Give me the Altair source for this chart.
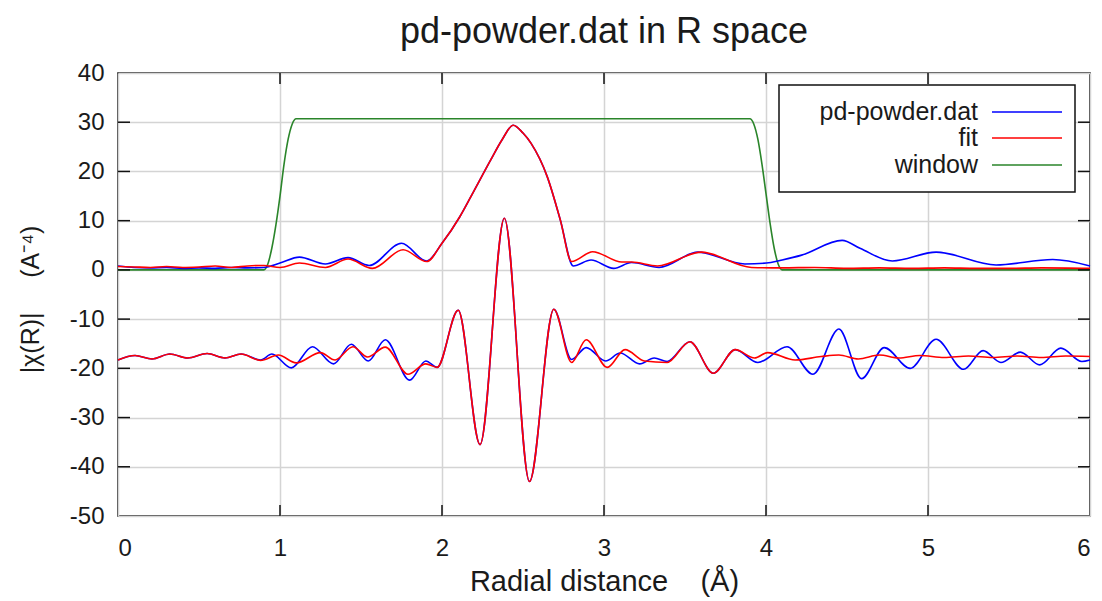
import altair as alt
import pandas as pd

# ---- data ----
# |chi(R)| of the data (blue)
mag_data_r = [0.0, 0.1, 0.2, 0.3, 0.4, 0.5, 0.6, 0.7, 0.8, 0.9, 1.0, 1.12, 1.28, 1.42, 1.55, 1.75,
              1.905, 2.0, 2.11, 2.19, 2.3, 2.37, 2.44, 2.5, 2.55, 2.65, 2.73, 2.81, 2.92, 3.06, 3.17,
              3.34, 3.58, 3.87, 4.03, 4.1, 4.22, 4.47, 4.58, 4.78, 5.05, 5.42, 5.77, 6.0]
mag_data_v = [0.8, 0.5, 0.4, 0.5, 0.3, 0.4, 0.3, 0.5, 0.4, 0.5, 1.4, 2.6, 1.2, 2.5, 0.9, 5.4,
              1.8, 5.4, 10.8, 15.6, 22.3, 26.4, 29.4, 27.8, 25.7, 18.9, 10.2, 0.8, 2.0, 0.3, 1.5,
              0.5, 3.6, 1.2, 1.5, 2.0, 3.0, 6.0, 4.4, 1.8, 3.6, 1.0, 2.1, 0.8]
# |chi(R)| of the fit (red)
mag_fit_r = [0.0, 0.1, 0.2, 0.3, 0.4, 0.5, 0.6, 0.7, 0.8, 0.9, 1.0, 1.12, 1.28, 1.42, 1.57, 1.76,
             1.905, 2.0, 2.11, 2.19, 2.3, 2.37, 2.44, 2.5, 2.55, 2.65, 2.73, 2.80, 2.93, 3.11, 3.17,
             3.33, 3.60, 3.91, 4.1, 4.3, 4.5, 4.7, 4.9, 5.1, 5.3, 5.5, 5.7, 6.0]
mag_fit_v = [0.7, 0.6, 0.5, 0.7, 0.5, 0.6, 0.8, 0.5, 0.8, 0.9, 0.5, 1.4, 0.5, 2.2, 0.3, 4.1,
             1.7, 5.4, 10.8, 15.6, 22.3, 26.4, 29.4, 27.8, 25.7, 18.9, 10.2, 1.7, 3.7, 1.6, 1.6,
             0.8, 3.6, 0.5, 0.4, 0.5, 0.3, 0.4, 0.3, 0.4, 0.3, 0.3, 0.4, 0.3]
# Re[chi(R)] of the data, shifted (blue)
re_data_r = [0.0, 0.105, 0.21, 0.32, 0.43, 0.55, 0.66, 0.76, 0.88, 0.95, 1.07, 1.2, 1.33, 1.44,
             1.545, 1.65, 1.80, 1.9, 1.97, 2.10, 2.235, 2.385, 2.54, 2.69, 2.80, 2.89, 3.01, 3.10,
             3.22, 3.31, 3.39, 3.53, 3.675, 3.81, 3.95, 4.13, 4.29, 4.45, 4.59, 4.73, 4.89, 5.05,
             5.22, 5.34, 5.45, 5.57, 5.69, 5.82, 5.95, 6.0]
re_data_v = [-18.3, -17.4, -18.1, -17.1, -17.9, -17.0, -17.9, -17.1, -18.3, -17.1, -19.9, -15.6,
             -19.1, -15.1, -18.5, -14.2, -22.4, -18.5, -19.8, -8.2, -35.5, 10.5, -43.0, -8.0, -18.2,
             -15.8, -18.5, -16.9, -19.1, -17.9, -18.6, -14.6, -21.0, -16.2, -18.8, -15.6, -21.2,
             -12.0, -22.1, -15.8, -20.0, -14.1, -20.2, -16.4, -18.8, -16.7, -19.3, -15.9, -18.6,
             -18.3]
# Re[chi(R)] of the fit, shifted (red)
re_fit_r = [0.0, 0.105, 0.21, 0.32, 0.43, 0.55, 0.66, 0.76, 0.88, 0.99, 1.10, 1.25, 1.34, 1.45,
            1.54, 1.65, 1.79, 1.9, 1.97, 2.10, 2.235, 2.385, 2.54, 2.69, 2.80, 2.89, 3.02, 3.13,
            3.25, 3.39, 3.53, 3.675, 3.81, 3.93, 4.01, 4.18, 4.34, 4.45, 4.57, 4.70, 4.82, 4.95,
            5.1, 5.25, 5.4, 5.55, 5.7, 5.85, 6.0]
re_fit_v = [-18.3, -17.4, -18.1, -17.1, -17.9, -17.0, -17.9, -17.1, -18.4, -17.3, -18.9, -16.8,
            -18.3, -15.6, -17.7, -15.7, -21.2, -19.1, -19.8, -8.2, -35.5, 10.5, -43.0, -8.0, -18.8,
            -14.2, -19.8, -16.2, -18.5, -18.8, -14.6, -21.0, -16.2, -17.9, -16.8, -18.3, -17.6,
            -17.3, -18.1, -17.3, -17.9, -17.4, -17.8, -17.5, -17.8, -17.5, -17.8, -17.5, -17.6]
# Fourier window (green)
win_r = [0.0, 0.9, 0.925, 0.95, 0.975, 1.0, 1.025, 1.05, 1.075, 1.1, 3.9, 3.925, 3.95, 3.975,
         4.0, 4.025, 4.05, 4.075, 4.1, 6.0]
win_v = [0.0, 0.0, 1.2, 4.5, 9.2, 15.0, 21.5, 26.5, 29.6, 30.7, 30.7, 29.6, 26.5, 21.5,
         15.5, 9.5, 4.5, 1.2, 0.0, 0.0]

series_names = ["pd-powder.dat", "fit", "window"]
series_colors = ["#0000ff", "#ff0000", "#2a852a"]

y_ticks = [-50, -40, -30, -20, -10, 0, 10, 20, 30, 40]
x_ticks = [0, 1, 2, 3, 4, 5, 6]

W, H = 972, 443
FONT = "Liberation Sans"
NB = "\u00a0"


def frame(rs, vs, series, part):
    return pd.DataFrame({"R": rs, "v": vs, "series": series, "part": part})


df = pd.concat([
    frame(win_r, win_v, "window", "win"),
    frame(mag_data_r, mag_data_v, "pd-powder.dat", "mag"),
    frame(re_data_r, re_data_v, "pd-powder.dat", "re"),
    frame(mag_fit_r, mag_fit_v, "fit", "mag"),
    frame(re_fit_r, re_fit_v, "fit", "re"),
], ignore_index=True)

xscale = alt.Scale(domain=[0, 6], nice=False, zero=False)
yscale = alt.Scale(domain=[-50, 40], nice=False, zero=False)
cscale = alt.Scale(domain=series_names, range=series_colors)

xaxis = alt.Axis(values=x_ticks, grid=True, gridColor="#d4d4d4", gridWidth=1.5, ticks=False,
                 domain=False, labelFontSize=24, labelFont=FONT, labelColor="#1a1a1a",
                 labelPadding=20, labelExpr="'' + datum.value",
                 title="Radial distance" + NB * 4 + "(Å)", titleFont=FONT,
                 titleFontSize=29, titleFontWeight="normal", titleColor="#1a1a1a",
                 titleBaseline="alphabetic", titleY=74)
yaxis = alt.Axis(values=y_ticks, grid=True, gridColor="#d4d4d4", gridWidth=1.5, ticks=False,
                 domain=False, labelFontSize=24, labelFont=FONT, labelColor="#1a1a1a",
                 labelPadding=14, labelExpr="'' + datum.value",
                 title="|χ(R)|" + NB * 5 + "(A⁻⁴)", titleFont=FONT,
                 titleFontSize=25, titleFontWeight="normal", titleColor="#1a1a1a",
                 titleAngle=270, titleBaseline="middle", titleAlign="center",
                 titleX=-88, titleY=226)

X = alt.X("R:Q", scale=xscale, axis=xaxis)
Y = alt.Y("v:Q", scale=yscale, axis=yaxis)

base = alt.Chart(df)


def lines(name):
    return base.transform_filter(alt.datum.series == name).mark_line(
        interpolate="monotone", strokeWidth=1.6).encode(
        x=X, y=Y,
        color=alt.Color("series:N", scale=cscale, legend=None),
        detail="part:N",
    )


win_layer = lines("window")
data_layer = lines("pd-powder.dat")
fit_layer = lines("fit")

# inward tick marks on all four sides, placed by the scales
ytick_df = pd.DataFrame({"v": y_ticks[1:-1]})
xtick_df = pd.DataFrame({"R": x_ticks[1:-1]})
tick_style = dict(color="#111111", strokeWidth=1.5)
yt_left = alt.Chart(ytick_df).mark_rule(**tick_style).encode(
    y=Y, x=alt.value(0), x2=alt.value(12))
yt_right = alt.Chart(ytick_df).mark_rule(**tick_style).encode(
    y=Y, x=alt.value(W - 12), x2=alt.value(W))
xt_bottom = alt.Chart(xtick_df).mark_rule(**tick_style).encode(
    x=X, y=alt.value(H - 11), y2=alt.value(H))
xt_top = alt.Chart(xtick_df).mark_rule(**tick_style).encode(
    x=X, y=alt.value(0), y2=alt.value(11))

# legend box (gnuplot style: label right-aligned, sample line on the right)
LX0, LY0, LX1, LY1 = 661, 12, 957, 119
legend_box = alt.Chart(pd.DataFrame({"k": [0]})).mark_rect(
    fill="white", stroke="#111111", strokeWidth=1.5).encode(
    x=alt.value(LX0), x2=alt.value(LX1), y=alt.value(LY0), y2=alt.value(LY1))
legend_layers = [legend_box]
row_y = [39, 65, 92]
for name, col, yy in zip(series_names, series_colors, row_y):
    one = pd.DataFrame({"name": [name]})
    legend_layers.append(alt.Chart(one).mark_text(
        align="right", baseline="middle", font=FONT, fontSize=25, color="#1a1a1a").encode(
        text="name:N", x=alt.value(860), y=alt.value(yy)))
    legend_layers.append(alt.Chart(one).mark_rule(color=col, strokeWidth=1.6).encode(
        x=alt.value(874), x2=alt.value(944), y=alt.value(yy)))

chart = alt.layer(
    win_layer, data_layer, fit_layer, yt_left, yt_right, xt_bottom, xt_top, *legend_layers
).properties(
    width=W, height=H,
    title=alt.TitleParams("pd-powder.dat in R space", font=FONT, fontSize=36,
                          fontWeight="normal", color="#1a1a1a", anchor="middle", offset=10),
    padding={"left": 110, "top": 65, "right": 4, "bottom": 85},
    autosize=alt.AutoSizeParams(type="none"),
    background="white",
).configure_view(stroke="#111111", strokeWidth=1.6)

chart.save("out.html", embed_options={"renderer": "svg", "actions": False})
